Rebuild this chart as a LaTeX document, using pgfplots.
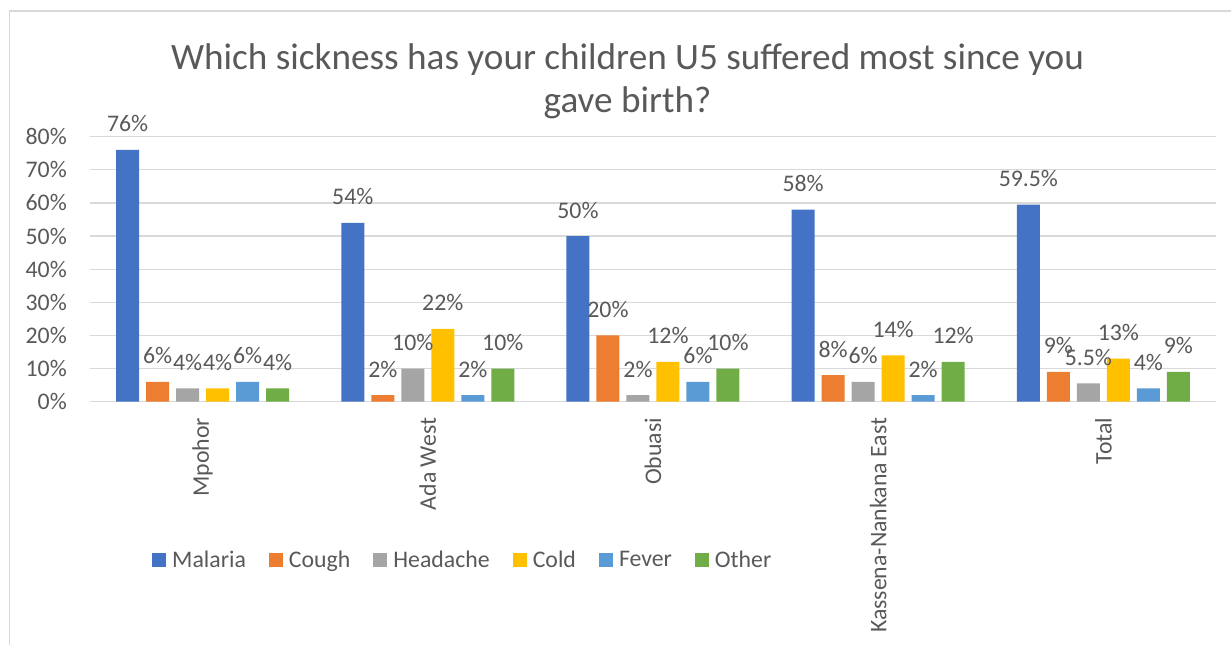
\documentclass[border=0pt]{standalone}
\usepackage{pgfplots}
\pgfplotsset{compat=1.18}
\usepackage{fontspec}
\setmainfont{Carlito}
\definecolor{cMal}{HTML}{4472C4}
\definecolor{cCou}{HTML}{ED7D31}
\definecolor{cHea}{HTML}{A5A5A5}
\definecolor{cCol}{HTML}{FFC000}
\definecolor{cFev}{HTML}{5B9BD5}
\definecolor{cOth}{HTML}{70AD47}
\definecolor{txt}{HTML}{595959}
\definecolor{grd}{HTML}{D9D9D9}
\newcommand{\lbl}{\fontsize{23.8pt}{28pt}\selectfont}
\begin{document}
\begin{tikzpicture}[x=1pt,y=1pt]
\useasboundingbox (0,0) rectangle (1231,645);
\draw[grd, line width=1.5pt] (9.5,0) -- (9.5,634) -- (1231,634);
\node[text=txt, font=\fontsize{37.2pt}{43pt}\selectfont, anchor=base, inner sep=0pt] at (627.5,575) {Which sickness has your children U5 suffered most since you};
\node[text=txt, font=\fontsize{37.2pt}{43pt}\selectfont, anchor=base, inner sep=0pt] at (627.5,532) {gave birth?};
\begin{axis}[
  at={(90pt,243.3pt)}, anchor=south west,
  scale only axis, width=1126pt, height=265pt,
  ybar=7pt, bar width=23pt,
  xmin=-0.5, xmax=4.5, ymin=0, ymax=80,
  clip=false,
  /pgf/number format/assume math mode=true,
  xtick={0,1,2,3,4},
  xticklabels={Mpohor,Ada West,Obuasi,Kassena-Nankana East,Total},
  ytick={0,10,20,30,40,50,60,70,80},
  yticklabel={\pgfmathprintnumber{\tick}\%},
  ymajorgrids, grid style={grd, line width=1.3pt},
  axis line style={draw=none}, major tick length=0pt,
  x tick label style={rotate=90, anchor=east, inner sep=0pt, font=\lbl, text=txt},
  xticklabel shift=16pt,
  y tick label style={anchor=east, inner sep=0pt, font=\lbl, text=txt},
  yticklabel shift=23pt,
  nodes near coords={\pgfmathprintnumber[fixed,precision=1]{\pgfplotspointmeta}\%},
  every node near coord/.append style={font=\lbl, text=txt, anchor=base, inner sep=0pt, yshift=18pt},
  legend columns=-1,
  legend image code/.code={\fill[#1] (0pt,-7pt) rectangle (14pt,7pt);},
  legend style={at={(axis description cs:0.05506,-0.5962)}, anchor=west, draw=none, fill=none,
    inner sep=0pt, font=\lbl, text=txt,
    /tikz/every even column/.append style={column sep=23pt},
    /tikz/every odd column/.append style={column sep=6pt},
    nodes={inner sep=0pt}},
]
\addplot[fill=cMal, draw=none] coordinates {(0,76) (1,54) (2,50) (3,58) (4,59.5)};
\addplot[fill=cCou, draw=none] coordinates {(0,6) (1,2) (2,20) (3,8) (4,9)};
\addplot[fill=cHea, draw=none] coordinates {(0,4) (1,10) (2,2) (3,6) (4,5.5)};
\addplot[fill=cCol, draw=none] coordinates {(0,4) (1,22) (2,12) (3,14) (4,13)};
\addplot[fill=cFev, draw=none] coordinates {(0,6) (1,2) (2,6) (3,2) (4,4)};
\addplot[fill=cOth, draw=none] coordinates {(0,4) (1,10) (2,10) (3,12) (4,9)};
\legend{Malaria,Cough,Headache,Cold,Fever,Other}
\end{axis}
\end{tikzpicture}
\end{document}
